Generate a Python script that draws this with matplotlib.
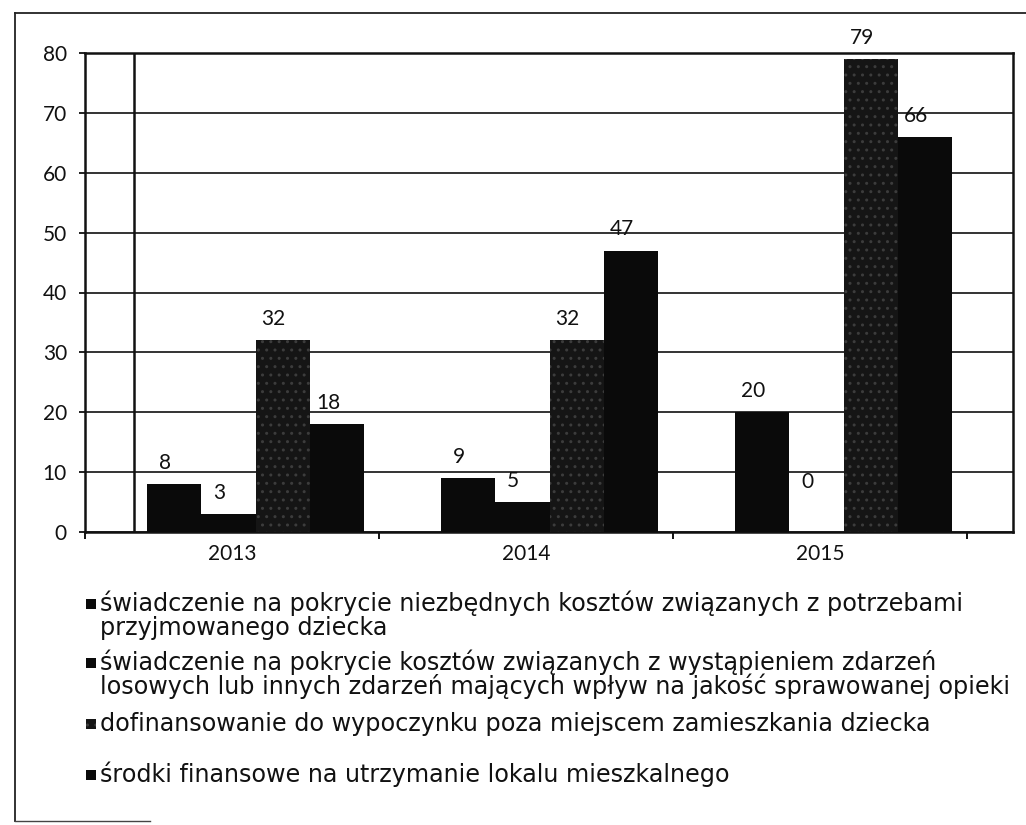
import matplotlib
matplotlib.use('Agg')
import matplotlib.pyplot as plt
from matplotlib.patches import Rectangle
from matplotlib.lines import Line2D

# ---- data ----
years = ['2013', '2014', '2015']
series_labels = [
    'świadczenie na pokrycie niezbędnych kosztów związanych z potrzebami\nprzyjmowanego dziecka',
    'świadczenie na pokrycie kosztów związanych z wystąpieniem zdarzeń\nlosowych lub innych zdarzeń mających wpływ na jakość sprawowanej opieki',
    'dofinansowanie do wypoczynku poza miejscem zamieszkania dziecka',
    'środki finansowe na utrzymanie lokalu mieszkalnego',
]
s1 = [8, 9, 20]
s2 = [3, 5, 0]
s3 = [32, 32, 79]
s4 = [18, 47, 66]
yticks = [0, 10, 20, 30, 40, 50, 60, 70, 80]

series = [s1, s2, s3, s4]

# ---- layout helpers ----
W, H = 1026, 825
fig = plt.figure(figsize=(W / 100, H / 100), dpi=100)


def fx(px):
    return px / W


def fy(py):
    return 1 - py / H


NUM_FONT = 'Lato'
LEG_FONT = 'DejaVu Sans'
INK = '#111111'

ax = fig.add_axes([fx(85), fy(532), fx(1013) - fx(85), fy(53) - fy(532)])
ax.set_xlim(-0.5, -0.5 + (1013 - 85) / 294)
ax.set_ylim(0, 80)

colors = ['#0a0a0a', '#0a0a0a', '#151515', '#0a0a0a']
hatches = [None, None, '..', None]
hatch_col = '#3c3c3c'
width = 0.185
shift = 0.08

for j, (vals, col, hat) in enumerate(zip(series, colors, hatches)):
    xs = [i + shift + (j - 1.5) * width for i in range(len(years))]
    ax.bar(xs, vals, width=width, color=col, edgecolor=hatch_col if hat else col,
           hatch=hat, linewidth=0, zorder=3)
    for x, v in zip(xs, vals):
        ax.annotate(str(v), (x, v), xytext=(-6.5, 8 if v else 29),
                    textcoords='offset points', ha='center', va='bottom',
                    fontsize=15, family=NUM_FONT, color=INK, zorder=4)

# gridlines
ax.set_yticks(yticks)
ax.yaxis.grid(True, color=INK, linewidth=1.2, zorder=1)
ax.set_axisbelow(True)
ax.tick_params(axis='y', direction='out', length=4, width=1.3, pad=9,
               labelsize=15, colors=INK)
for lab in ax.get_yticklabels():
    lab.set_family(NUM_FONT)

# x axis: labels at centres, ticks at boundaries
ax.set_xticks(range(len(years)))
ax.set_xticklabels(years, family=NUM_FONT, fontsize=15, color=INK)
ax.set_xticks([-0.5, 0.5, 1.5, 2.5], minor=True)
ax.tick_params(axis='x', which='major', length=0, pad=9)
ax.tick_params(axis='x', which='minor', direction='out', length=5, width=1.3)

for sp in ax.spines.values():
    sp.set_linewidth(1.8)
    sp.set_color(INK)

# extra vertical rule seen in the original
ax.axvline(-1 / 3, color=INK, linewidth=1.8, zorder=2)

# ---- outer frame ----
fig.add_artist(Line2D([fx(15), fx(15)], [fy(13), fy(821)], transform=fig.transFigure,
                      color='#222222', lw=1.3))
fig.add_artist(Line2D([fx(15), fx(1026)], [fy(13), fy(13)], transform=fig.transFigure,
                      color='#222222', lw=1.3))
fig.add_artist(Line2D([fx(15), fx(150)], [fy(821), fy(821)], transform=fig.transFigure,
                      color='#444444', lw=1.0))

# ---- legend (manual, below plot) ----
first_line_centres = [604, 663, 724, 775]
line_step = 24
for lab, col, hat, cy in zip(series_labels, colors, hatches, first_line_centres):
    fig.add_artist(Rectangle((fx(86), fy(cy + 5)), fx(96) - fx(86), fy(cy - 5) - fy(cy + 5),
                             transform=fig.transFigure, facecolor=col,
                             edgecolor=hatch_col if hat else col, hatch=hat, linewidth=0))
    for k, line in enumerate(lab.split('\n')):
        fig.text(fx(100), fy(cy + 7 + k * line_step), line, ha='left', va='baseline',
                 fontsize=17.2, family=LEG_FONT, color=INK)

fig.savefig('out.png', dpi=100)
